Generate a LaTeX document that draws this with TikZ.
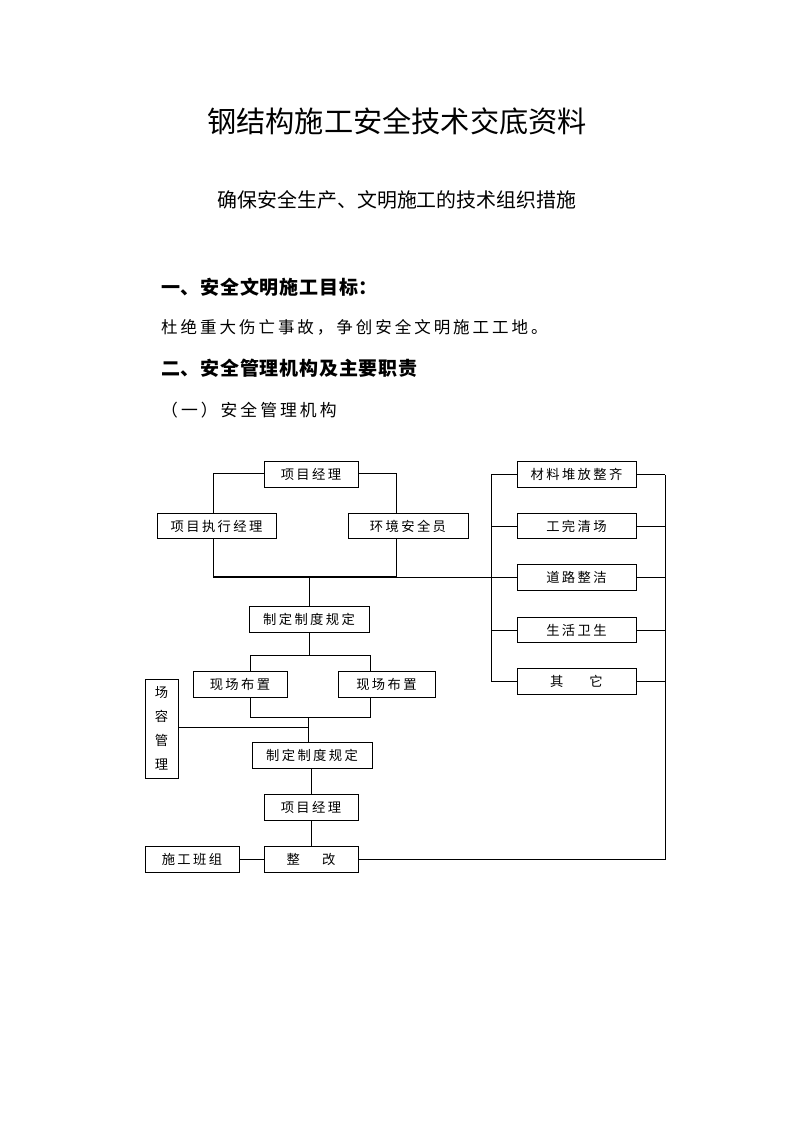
\documentclass[tikz,border=0pt]{standalone}
\usepackage{fontspec}
\newfontfamily\cjk{Noto Sans CJK SC}
\newfontfamily\cjkls[LetterSpace=18]{Noto Sans CJK SC}
\newfontfamily\cjkhd[LetterSpace=4]{Noto Sans CJK SC}
\begin{document}
\begin{tikzpicture}[x=1pt,y=-1pt,
  box/.style={draw, line width=0.8pt, inner sep=0pt, minimum height=25.5pt,
    font=\cjkls\fontsize{13.3}{13.3}\selectfont},
  conn/.style={line width=0.8pt},
  bus/.style={line width=1.6pt}]
\path[fill=white,use as bounding box] (0,0) rectangle (793,1122);

% texts
\node[font=\cjk\fontsize{29.2}{31}\selectfont] (title) at (397,121) {钢结构施工安全技术交底资料};
\node[font=\cjk\fontsize{19.9}{21}\selectfont] (sub) at (397,200) {确保安全生产、文明施工的技术组织措施};
\node[anchor=west,inner sep=0pt,font=\cjkhd\bfseries\fontsize{19}{21}\selectfont] (h1) at (161,287) {一、安全文明施工目标：};
\node[anchor=west,inner sep=0pt,font=\cjkls\fontsize{16.5}{18}\selectfont] (p1) at (161,327) {杜绝重大伤亡事故，争创安全文明施工工地。};
\node[anchor=west,inner sep=0pt,font=\cjkhd\bfseries\fontsize{19}{21}\selectfont] (h2) at (161,368) {二、安全管理机构及主要职责};
\node[anchor=west,inner sep=0pt,font=\cjkls\fontsize{16.8}{18}\selectfont] (h3) at (161,410) {（一）安全管理机构};

% left tree boxes
\node[box,minimum width=94pt] (pm1) at (311,474.5) {项目经理};
\node[box,minimum width=119pt] (exec) at (216.5,526) {项目执行经理};
\node[box,minimum width=120pt] (env) at (408,526) {环境安全员};
\node[box,minimum width=120pt] (zd1) at (309,619.5) {制定制度规定};
\node[box,minimum width=94pt] (xc1) at (240,684.5) {现场布置};
\node[box,minimum width=97pt] (xc2) at (386.5,684.5) {现场布置};
\node[box,minimum width=33pt,minimum height=99pt,align=center,
  font=\cjk\fontsize{13.3}{24}\selectfont] (zr) at (161.5,728.5) {场\\容\\管\\理};
\node[box,minimum width=120pt] (zd2) at (312,755.5) {制定制度规定};
\node[box,minimum width=94pt] (pm2) at (311,807.5) {项目经理};
\node[box,minimum width=94pt] (zg) at (311,859.5) {整\hspace{22pt}改};
\node[box,minimum width=94pt] (bz) at (192,859.5) {施工班组};

% right column boxes
\node[box,minimum width=119pt] (r1) at (576.5,474.5) {材料堆放整齐};
\node[box,minimum width=119pt] (r2) at (576.5,526) {工完清场};
\node[box,minimum width=119pt] (r3) at (576.5,577.5) {道路整洁};
\node[box,minimum width=119pt] (r4) at (576.5,630) {生活卫生};
\node[box,minimum width=119pt] (r5) at (576.5,681.5) {其\hspace{26pt}它};

% helper coordinates
\coordinate (L) at (213,473);
\coordinate (R) at (396,473);
\coordinate (busL) at (213,577);
\coordinate (busR) at (396,577);
\coordinate (busM) at (309,577);
\coordinate (sa) at (250,655);
\coordinate (sb) at (370,655);
\coordinate (ja) at (250,717);
\coordinate (jb) at (370,717);
\coordinate (mid) at (308,717);
\coordinate (LV) at (491,474.5);
\coordinate (RV) at (665,474.5);

% top part
\draw[conn] (pm1.west |- L) -- (L) -- (L |- exec.north);
\draw[conn] (L |- exec.south) -- (busL);
\draw[conn] (pm1.east |- R) -- (R) -- (R |- env.north);
\draw[conn] (R |- env.south) -- (busR);
\draw[bus] (busL) -- (busR);
\draw[conn] (busR) -- (r3.west |- busR);
\draw[conn] (busM) -- (zd1.north);

% middle part
\draw[conn] (zd1.south) -- (zd1.south |- sa);
\draw[conn] (sa |- xc1.north) -- (sa) -- (sb) -- (sb |- xc2.north);
\draw[conn] (ja |- xc1.south) -- (ja) -- (jb) -- (jb |- xc2.south);
\draw[conn] (mid) -- (mid |- zd2.north);
\draw[conn] (zr.east |- 0,727) -- (mid |- 0,727);

% lower part
\draw[conn] (zd2.south -| pm2.north) -- (pm2.north);
\draw[conn] (pm2.south) -- (zg.north);
\draw[conn] (bz.east) -- (zg.west);
\draw[conn] (zg.east) -| (RV);

% right column
\draw[conn] (LV) -- (LV |- r5.west);
\foreach \n in {r1,r2,r3,r4,r5}{
  \draw[conn] (\n.west) -- (LV |- \n.west);
  \draw[conn] (\n.east) -- (RV |- \n.east);
}
\end{tikzpicture}
\end{document}
